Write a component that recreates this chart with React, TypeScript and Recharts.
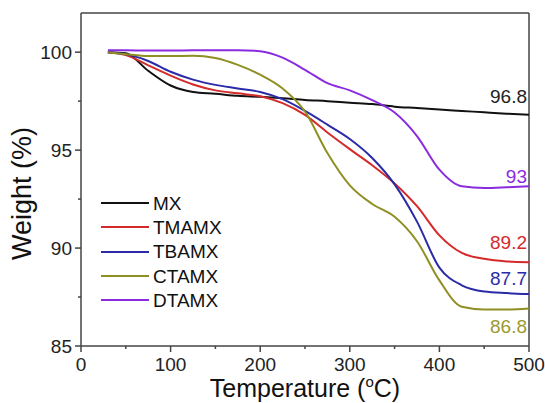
import React from 'react';
import {
  LineChart,
  Line,
  XAxis,
  YAxis,
  Legend,
  ReferenceLine,
  ReferenceDot,
} from 'recharts';

const temps = [30, 50, 75, 100, 125, 150, 175, 200, 225, 250, 275, 300, 325, 350, 375, 400, 425, 450, 475, 500];

const mx = [100, 99.95, 99.05, 98.3, 97.97, 97.88, 97.77, 97.72, 97.65, 97.56, 97.5, 97.42, 97.35, 97.22, 97.15, 97.07, 97.0, 96.93, 96.86, 96.8];
const tmamx = [100, 99.85, 99.33, 98.8, 98.35, 98.05, 97.9, 97.75, 97.4, 96.8, 95.9, 95.05, 94.23, 93.3, 92.14, 90.65, 89.75, 89.45, 89.32, 89.28];
const tbamx = [100, 99.9, 99.55, 99.0, 98.6, 98.33, 98.15, 97.97, 97.6, 97.0, 96.3, 95.57, 94.6, 93.25, 91.35, 89.0, 88.1, 87.78, 87.7, 87.65];
const ctamx = [100, 99.9, 99.8, 99.8, 99.82, 99.7, 99.35, 98.85, 98.15, 96.97, 94.85, 93.2, 92.25, 91.6, 90.35, 88.35, 87.0, 86.86, 86.86, 86.92];
const dtamx = [100.1, 100.1, 100.08, 100.08, 100.1, 100.1, 100.1, 100.05, 99.72, 99.1, 98.42, 98.05, 97.55, 96.92, 95.72, 94.0, 93.15, 93.06, 93.1, 93.16];

const seriesNames = ['MX', 'TMAMX', 'TBAMX', 'CTAMX', 'DTAMX'];
const seriesColors = ['#111111', '#d42a2a', '#2b2ba8', '#8f8f24', '#8a2be0'];

// end-of-curve annotations (label text, colour, vertical position in %)
const endLabels = ['96.8', '93', '89.2', '87.7', '86.8'];
const endLabelColors = ['#222222', '#8a2be0', '#d42a2a', '#2b2ba8', '#9a9a30'];
const endLabelY = [97.76, 93.67, 90.28, 88.45, 86.02];

const xTicks = [0, 50, 100, 150, 200, 250, 300, 350, 400, 450, 500];
const yTicks = [85, 87.5, 90, 92.5, 95, 97.5, 100];

const data = temps.map((t, i) => ({
  t,
  MX: mx[i],
  TMAMX: tmamx[i],
  TBAMX: tbamx[i],
  CTAMX: ctamx[i],
  DTAMX: dtamx[i],
}));

const font = '"Liberation Sans", Arial, sans-serif';
const axisColor = '#444';

const TICK_SIZE = 6;
const X_MARGIN = 6;
const Y_MARGIN = 3;

const XTick = (props: any) => {
  const { x, y, payload } = props;
  const major = payload.value % 100 === 0;
  const axisY = y - TICK_SIZE - X_MARGIN;
  return (
    <g>
      <line x1={x} x2={x} y1={axisY} y2={axisY + (major ? 6 : 3)} stroke={axisColor} strokeWidth={1.5} />
      {major && (
        <text x={x} y={y} dy="0.71em" textAnchor="middle" fontSize={19} fontFamily={font} fill="#222">
          {payload.value}
        </text>
      )}
    </g>
  );
};

const YTick = (props: any) => {
  const { x, y, payload } = props;
  const major = payload.value % 5 === 0;
  const axisX = x + TICK_SIZE + Y_MARGIN;
  return (
    <g>
      <line x1={axisX - (major ? 6 : 3)} x2={axisX} y1={y} y2={y} stroke={axisColor} strokeWidth={1.5} />
      {major && (
        <text x={x} y={y} dy="0.355em" textAnchor="end" fontSize={19} fontFamily={font} fill="#222">
          {payload.value}
        </text>
      )}
    </g>
  );
};

const XTitle = (props: any) => {
  const { viewBox } = props;
  const cx = viewBox.x + viewBox.width / 2;
  return (
    <text x={cx} y={397} textAnchor="middle" fontSize={25} fontFamily={font} fill="#111">
      Temperature (<tspan fontSize={15} dy={-10}>o</tspan><tspan dy={10}>C)</tspan>
    </text>
  );
};

const YTitle = (props: any) => {
  const { viewBox } = props;
  const cy = viewBox.y + viewBox.height / 2 + 14;
  return (
    <text
      x={31}
      y={cy}
      transform={`rotate(-90, 31, ${cy})`}
      textAnchor="middle"
      fontSize={27}
      fontFamily={font}
      fill="#111"
    >
      Weight (%)
    </text>
  );
};

const LegendBox = () => (
  <div style={{ fontFamily: font, fontSize: 19, color: '#111' }}>
    {seriesNames.map((name, i) => (
      <div key={name} style={{ display: 'flex', alignItems: 'center', height: 24.3 }}>
        <svg width={48} height={6} style={{ marginRight: 4 }}>
          <line x1={0} x2={48} y1={3} y2={3} stroke={seriesColors[i]} strokeWidth={2} />
        </svg>
        <span style={{ lineHeight: '19px' }}>{name}</span>
      </div>
    ))}
  </div>
);

export default function App() {
  return (
    <div style={{ position: 'absolute', left: 0, top: 0, width: 545, height: 403, background: '#fff' }}>
      <LineChart width={545} height={403} data={data} margin={{ top: 13, right: 16, bottom: 0, left: 0 }}>
        <XAxis
          dataKey="t"
          type="number"
          domain={[0, 500]}
          ticks={xTicks}
          interval={0}
          height={57}
          tickSize={TICK_SIZE}
          tickMargin={X_MARGIN}
          tickLine={false}
          tick={<XTick />}
          stroke={axisColor}
          strokeWidth={1.5}
          label={<XTitle />}
        />
        <YAxis
          type="number"
          domain={[85, 102]}
          ticks={yTicks}
          interval={0}
          width={81}
          tickSize={TICK_SIZE}
          tickMargin={Y_MARGIN}
          tickLine={false}
          tick={<YTick />}
          stroke={axisColor}
          strokeWidth={1.5}
          allowDataOverflow
          label={<YTitle />}
        />
        <ReferenceLine y={102} stroke={axisColor} strokeWidth={1.5} />
        <ReferenceLine x={500} stroke={axisColor} strokeWidth={1.5} />
        <Legend
          layout="horizontal"
          verticalAlign="middle"
          align="center"
          content={<LegendBox />}
          wrapperStyle={{ position: 'absolute', left: 101, top: 191, width: 'auto', height: 'auto' }}
        />
        {seriesNames.map((name, i) => (
          <Line
            key={name}
            type="monotone"
            dataKey={name}
            stroke={seriesColors[i]}
            strokeWidth={2}
            dot={false}
            isAnimationActive={false}
          />
        ))}
        {endLabels.map((txt, i) => (
          <ReferenceDot
            key={txt}
            x={500}
            y={endLabelY[i]}
            r={0}
            stroke="none"
            fill="none"
            label={{ value: txt, position: 'left', offset: 2, fill: endLabelColors[i], fontSize: 19, fontFamily: font }}
          />
        ))}
      </LineChart>
    </div>
  );
}
